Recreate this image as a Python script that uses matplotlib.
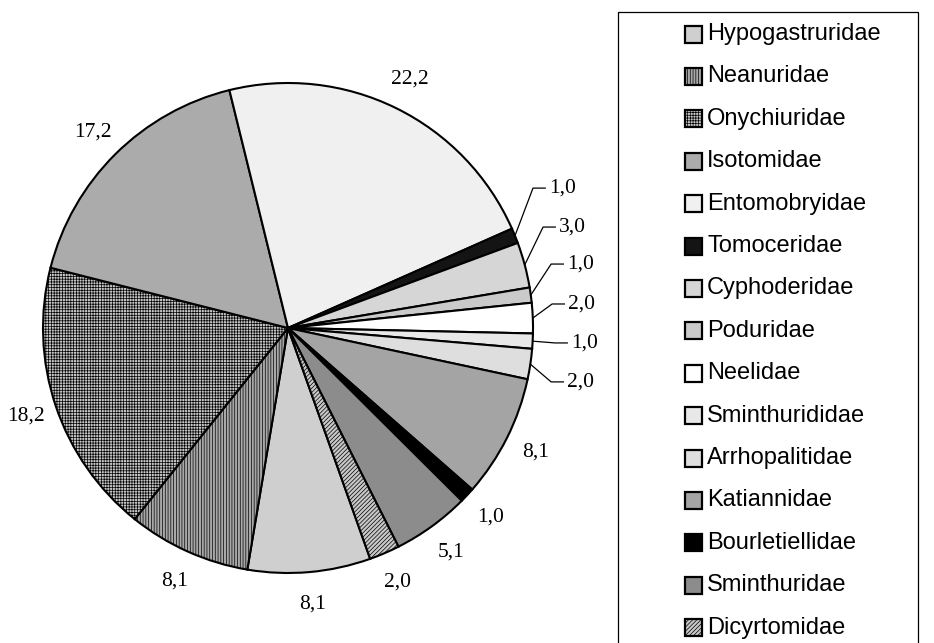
import numpy as np
import matplotlib.pyplot as plt
from matplotlib.patches import Rectangle

families = ["Hypogastruridae", "Neanuridae", "Onychiuridae", "Isotomidae",
            "Entomobryidae", "Tomoceridae", "Cyphoderidae", "Poduridae",
            "Neelidae", "Sminthurididae", "Arrhopalitidae", "Katiannidae",
            "Bourletiellidae", "Sminthuridae", "Dicyrtomidae"]
shares = [8.1, 8.1, 18.2, 17.2, 22.2, 1.0, 3.0, 1.0, 2.0, 1.0, 2.0, 8.1, 1.0, 5.1, 2.0]

fills = ["#cfcfcf", "#a8a8a8", "#c6c6c6", "#ababab", "#f0f0f0", "#141414",
         "#d6d6d6", "#cacaca", "#ffffff", "#e8e8e8", "#dedede", "#a4a4a4",
         "#000000", "#8c8c8c", "#c8c8c8"]
hatches = [None, "||||||", "++++++", None, None, None, None, None, None, None,
           None, None, None, None, "////////"]

# small slices on the right get labels pulled out with leader lines
leader_idx = [5, 6, 7, 8, 9, 10]
leader_x = [1.065, 1.106, 1.139, 1.143, 1.155, 1.139]
leader_y = [0.571, 0.412, 0.261, 0.098, -0.061, -0.220]

W, H = 934, 643
cx, cy, R = 288, 328, 245

plt.rcParams['hatch.linewidth'] = 0.5

fig = plt.figure(figsize=(W / 100, H / 100), dpi=100)
ax = fig.add_axes([0, 0, 1, 1])

wedges, _ = ax.pie(shares, colors=fills, startangle=90 - 160.4, counterclock=False,
                   radius=1, wedgeprops=dict(edgecolor="black", linewidth=1.5))
for w, h in zip(wedges, hatches):
    if h:
        w.set_hatch(h)

ax.set_xlim(-cx / R, (W - cx) / R)
ax.set_ylim(-(H - cy) / R, cy / R)
ax.set_aspect("equal")
ax.axis("off")

serif = ["Liberation Serif", "DejaVu Serif"]
for i, (w, v) in enumerate(zip(wedges, shares)):
    txt = "{:.1f}".format(v).replace(".", ",")
    mid = np.deg2rad((w.theta1 + w.theta2) / 2)
    if i in leader_idx:
        k = leader_idx.index(i)
        tx, ty = leader_x[k], leader_y[k]
        ax.plot([np.cos(mid), tx - 0.065, tx - 0.015],
                [np.sin(mid), ty, ty], color="black", lw=0.9)
        ax.text(tx, ty, txt, ha="left", va="center", fontsize=15.5, family=serif)
    else:
        ax.text(1.13 * np.cos(mid), 1.13 * np.sin(mid), txt, ha="center",
                va="center", fontsize=15.5, family=serif)

# legend drawn in pixel coordinates
lg = fig.add_axes([0, 0, 1, 1])
lg.set_xlim(0, W)
lg.set_ylim(H, 0)
lg.axis("off")
lg.add_patch(Rectangle((618, 12), 300, 660, fill=False, edgecolor="black", lw=0.9))
for i, name in enumerate(families):
    y = 34 + 42.4 * i
    lg.add_patch(Rectangle((685, y - 8.5), 17, 17, facecolor=fills[i],
                           hatch=hatches[i], edgecolor="black", lw=1.6))
    lg.text(707, y, name, ha="left", va="center", fontsize=17,
            family=["Liberation Sans", "DejaVu Sans"])

fig.savefig("out.png", dpi=100)
